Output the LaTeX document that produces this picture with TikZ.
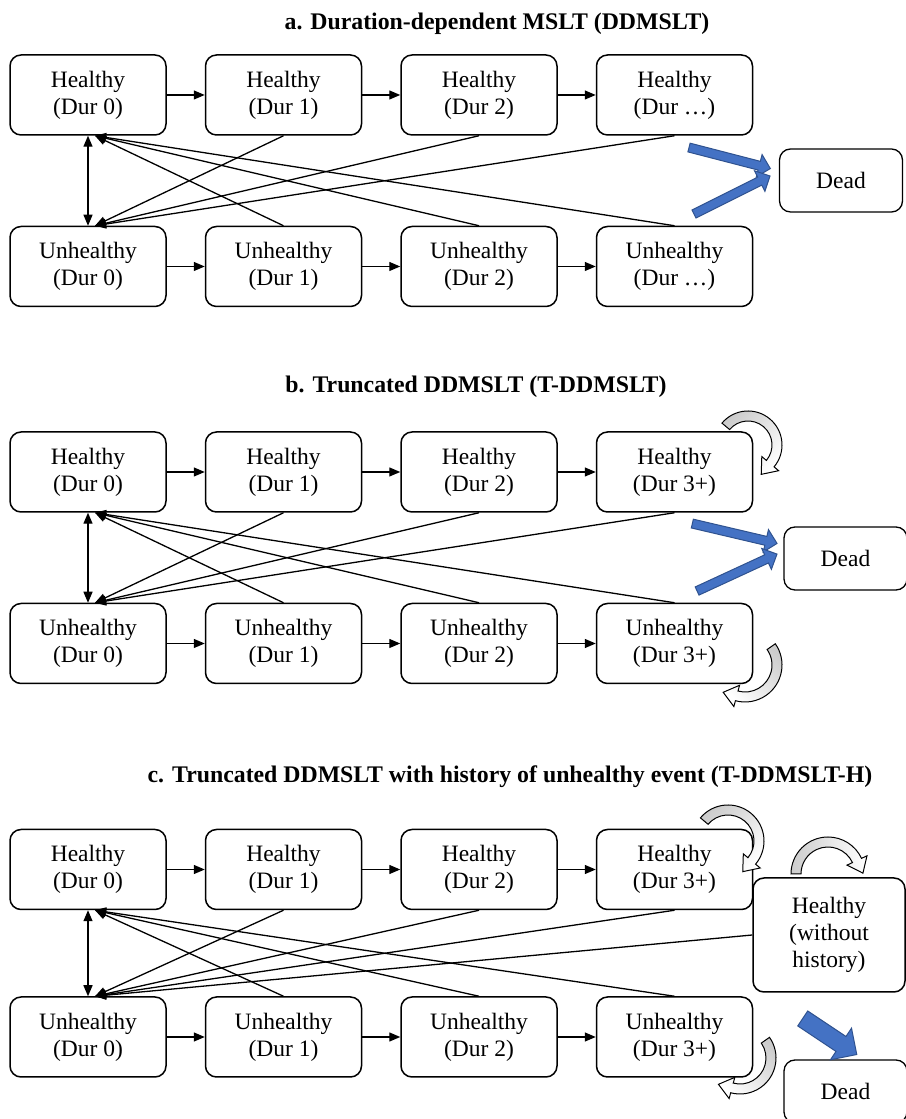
\documentclass[tikz,border=0pt]{standalone}
\usepackage{fontspec}
\setmainfont{Liberation Serif}
\usetikzlibrary{arrows.meta,positioning,shapes.arrows,calc}
\definecolor{fatblue}{HTML}{4472C4}
\definecolor{fatedge}{HTML}{2F528F}
% curved self-arrow: centre, radius, start angle, end angle, shading angle
\newcommand{\turnarrow}[5]{%
  \path[turnar, shading angle=#5]
    ($(#1)+(#3:{#2+5})$) arc[start angle=#3, end angle=#4, radius={#2+5}]
    -- ($(#1)+(#4:{#2+11})$) -- ($(#1)+(#4:#2)+({#4-90}:14)$)
    -- ($(#1)+(#4:{#2-11})$) -- ($(#1)+(#4:{#2-5})$)
    arc[start angle=#4, end angle=#3, radius={#2-5}] -- cycle;}

\begin{document}
\begin{tikzpicture}[x=1pt, y=1pt,
  state/.style={draw, rounded corners=11pt, line width=1.5pt, minimum width=156pt,
                minimum height=80pt, align=center, inner sep=2pt,
                font=\fontsize{23.5}{27}\selectfont},
  deadbox/.style={draw, rounded corners=11pt, line width=1.3pt, minimum width=123pt,
                  minimum height=63pt, font=\fontsize{23.5}{27}\selectfont},
  ttl/.style={anchor=base, font=\fontsize{23.8}{27}\selectfont\bfseries},
  arr/.style={-{Triangle[length=11pt, width=9pt]}, line width=1.3pt},
  twoway/.style={{Triangle[length=11pt, width=9pt]}-{Triangle[length=11pt, width=9pt]}, line width=1.3pt},
  fat/.style={single arrow, draw=fatedge, fill=fatblue, line width=1pt, inner sep=0pt,
              text height=4pt, text depth=4pt, single arrow head extend=7pt,
              single arrow head indent=0pt},
  turnar/.style={draw, line width=1pt, top color=gray!40, bottom color=white},
  node distance=90pt and 38pt
]
  \useasboundingbox (0,0) rectangle (905,1119);

  % a. DDMSLT
  \node[ttl] (a-title) at (497,1089) {a. Duration-dependent MSLT (DDMSLT)};
  \node[state] (a-h0) at (88,1024) {Healthy\\(Dur 0)};
  \node[state, right=of a-h0] (a-h1) {Healthy\\(Dur 1)};
  \node[state, right=of a-h1] (a-h2) {Healthy\\(Dur 2)};
  \node[state, right=of a-h2] (a-h3) {Healthy\\(Dur …)};
  \node[state, below=of a-h0] (a-u0) {Unhealthy\\(Dur 0)};
  \node[state, right=of a-u0] (a-u1) {Unhealthy\\(Dur 1)};
  \node[state, right=of a-u1] (a-u2) {Unhealthy\\(Dur 2)};
  \node[state, right=of a-u2] (a-u3) {Unhealthy\\(Dur …)};
  \node[deadbox] (a-dead) at (841,938.5) {Dead};

  \draw[arr] (a-h0) -- (a-h1);
  \draw[arr] (a-h1) -- (a-h2);
  \draw[arr] (a-h2) -- (a-h3);
  \draw[arr] (a-u0) -- (a-u1);
  \draw[arr] (a-u1) -- (a-u2);
  \draw[arr] (a-u2) -- (a-u3);
  \draw[twoway] (a-h0) -- (a-u0);
  \draw[arr] (a-h1.south) -- ([xshift=7pt]a-u0.north);
  \draw[arr] (a-h2.south) -- ([xshift=7pt]a-u0.north);
  \draw[arr] (a-h3.south) -- ([xshift=7pt]a-u0.north);
  \draw[arr] (a-u1.north) -- ([xshift=7pt]a-h0.south);
  \draw[arr] (a-u2.north) -- ([xshift=7pt]a-h0.south);
  \draw[arr] (a-u3.north) -- ([xshift=7pt]a-h0.south);
  \node[fat, minimum height=84pt, rotate=-14.5] (a-in1) at (727.5,961.5) {};
  \node[fat, minimum height=85pt, rotate=26.6] (a-in2) at (730,923) {};

  % b. T-DDMSLT
  \node[ttl] (b-title) at (476,726) {b. Truncated DDMSLT (T-DDMSLT)};
  \node[state] (b-h0) at (88,647) {Healthy\\(Dur 0)};
  \node[state, right=of b-h0] (b-h1) {Healthy\\(Dur 1)};
  \node[state, right=of b-h1] (b-h2) {Healthy\\(Dur 2)};
  \node[state, right=of b-h2] (b-h3) {Healthy\\(Dur 3+)};
  \node[state, below=of b-h0] (b-u0) {Unhealthy\\(Dur 0)};
  \node[state, right=of b-u0] (b-u1) {Unhealthy\\(Dur 1)};
  \node[state, right=of b-u1] (b-u2) {Unhealthy\\(Dur 2)};
  \node[state, right=of b-u2] (b-u3) {Unhealthy\\(Dur 3+)};
  \node[deadbox] (b-dead) at (845.5,560.5) {Dead};

  \draw[arr] (b-h0) -- (b-h1);
  \draw[arr] (b-h1) -- (b-h2);
  \draw[arr] (b-h2) -- (b-h3);
  \draw[arr] (b-u0) -- (b-u1);
  \draw[arr] (b-u1) -- (b-u2);
  \draw[arr] (b-u2) -- (b-u3);
  \draw[twoway] (b-h0) -- (b-u0);
  \draw[arr] (b-h1.south) -- ([xshift=7pt]b-u0.north);
  \draw[arr] (b-h2.south) -- ([xshift=7pt]b-u0.north);
  \draw[arr] (b-h3.south) -- ([xshift=7pt]b-u0.north);
  \draw[arr] (b-u1.north) -- ([xshift=7pt]b-h0.south);
  \draw[arr] (b-u2.north) -- ([xshift=7pt]b-h0.south);
  \draw[arr] (b-u3.north) -- ([xshift=7pt]b-h0.south);
  \node[fat, minimum height=87pt, rotate=-13.2] (b-in1) at (732.5,586) {};
  \node[fat, minimum height=88pt, rotate=24.8] (b-in2) at (735,545.5) {};
  \coordinate (b-loop1) at (748,674);
  \coordinate (b-loop2) at (745,454);
  \turnarrow{b-loop1}{29}{140}{-40}{45}
  \turnarrow{b-loop2}{32}{35}{-105}{-45}

  % c. T-DDMSLT-H
  \node[ttl] (c-title) at (510,336) {c. Truncated DDMSLT with history of unhealthy event (T-DDMSLT-H)};
  \node[state] (c-h0) at (88,249.5) {Healthy\\(Dur 0)};
  \node[state, right=of c-h0] (c-h1) {Healthy\\(Dur 1)};
  \node[state, right=of c-h1] (c-h2) {Healthy\\(Dur 2)};
  \node[state, right=of c-h2] (c-h3) {Healthy\\(Dur 3+)};
  \node[state, below=86pt of c-h0] (c-u0) {Unhealthy\\(Dur 0)};
  \node[state, right=of c-u0] (c-u1) {Unhealthy\\(Dur 1)};
  \node[state, right=of c-u1] (c-u2) {Unhealthy\\(Dur 2)};
  \node[state, right=of c-u2] (c-u3) {Unhealthy\\(Dur 3+)};
  \node[state, minimum width=152pt, minimum height=114pt] (c-hist) at (829,184) {Healthy\\(without\\history)};
  \node[deadbox] (c-dead) at (845.5,27.5) {Dead};

  \draw[arr] (c-h0) -- (c-h1);
  \draw[arr] (c-h1) -- (c-h2);
  \draw[arr] (c-h2) -- (c-h3);
  \draw[arr] (c-u0) -- (c-u1);
  \draw[arr] (c-u1) -- (c-u2);
  \draw[arr] (c-u2) -- (c-u3);
  \draw[twoway] (c-h0) -- (c-u0);
  \draw[arr] (c-h1.south) -- ([xshift=7pt]c-u0.north);
  \draw[arr] (c-h2.south) -- ([xshift=7pt]c-u0.north);
  \draw[arr] (c-h3.south) -- ([xshift=7pt]c-u0.north);
  \draw[arr] (c-hist.west) -- ([xshift=7pt]c-u0.north);
  \draw[arr] (c-u1.north) -- ([xshift=7pt]c-h0.south);
  \draw[arr] (c-u2.north) -- ([xshift=7pt]c-h0.south);
  \draw[arr] (c-u3.north) -- ([xshift=7pt]c-h0.south);
  \node[fat, minimum height=65pt, text height=8.5pt, text depth=8.5pt,
        single arrow head extend=10pt, rotate=-33.7] (c-in1) at (826,85) {};
  \coordinate (c-loop1) at (728,278);
  \coordinate (c-loop2) at (828,245);
  \coordinate (c-loop3) at (740,61);
  \turnarrow{c-loop1}{31}{140}{-40}{45}
  \turnarrow{c-loop2}{32}{180}{25}{90}
  \turnarrow{c-loop3}{31}{35}{-105}{-45}
\end{tikzpicture}
\end{document}
